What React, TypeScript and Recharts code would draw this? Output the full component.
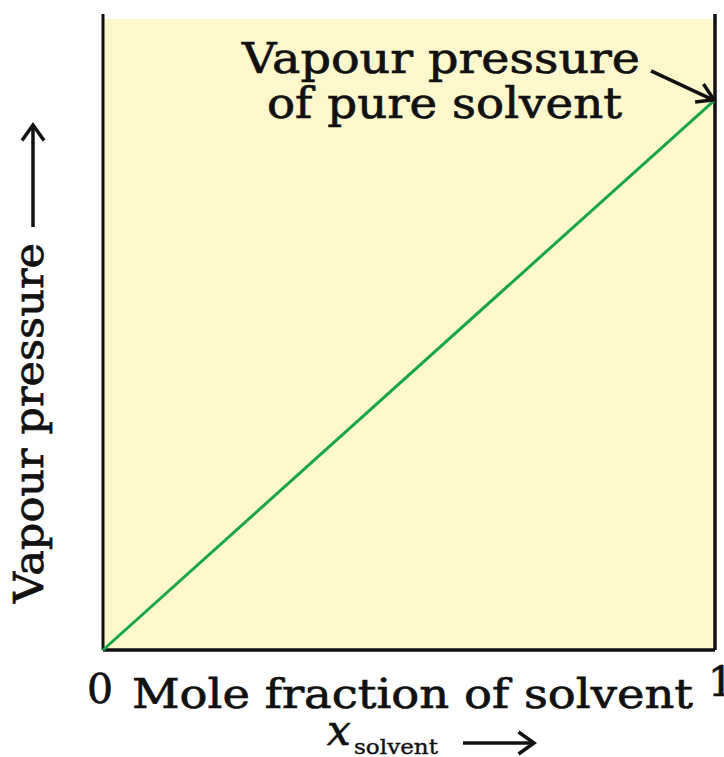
import {
  ComposedChart,
  Line,
  XAxis,
  YAxis,
  ReferenceArea,
  ReferenceLine,
  ReferenceDot,
  Label,
} from 'recharts'

// mole fraction of solvent vs its vapour pressure (Raoult's law, relative units)
const FRACTION = [0, 1]
const PRESSURE = [0, 1]
const X_TICKS = [0, 1]
const X_TITLE = 'Mole fraction of solvent'
const X_SYMBOL = 'x'
const X_SUB = 'solvent'
const Y_TITLE = 'Vapour pressure'
const NOTE = ['Vapour pressure', 'of pure solvent']

const FONT = '"DejaVu Serif", serif'
const INK = '#111111'
const PAPER = '#fef8cc'
const GREEN = '#19a64b'

const data = FRACTION.map((x, i) => ({ x, p: PRESSURE[i] }))

// the book face is wider and darker than DejaVu Serif, so stretch + embolden a bit
const heavy = { stroke: INK, strokeWidth: 0.7, lengthAdjust: 'spacingAndGlyphs' as const }

function arrowHead(x1: number, y1: number, x2: number, y2: number, len = 14, spread = 0.55) {
  const a = Math.atan2(y2 - y1, x2 - x1)
  const l = [x2 - len * Math.cos(a - spread), y2 - len * Math.sin(a - spread)]
  const r = [x2 - len * Math.cos(a + spread), y2 - len * Math.sin(a + spread)]
  return `M${l[0]},${l[1]} L${x2},${y2} L${r[0]},${r[1]}`
}

// eslint-disable-next-line @typescript-eslint/no-explicit-any
function XTick({ x, y, payload }: any) {
  const one = payload.value === 1
  return (
    <text
      x={x + (one ? 6 : -3)}
      y={y + (one ? 38 : 45)}
      textAnchor="middle"
      fontFamily={FONT}
      fontSize={41}
      fill={INK}
      stroke={INK}
      strokeWidth={0.7}
    >
      {payload.value}
    </text>
  )
}

// eslint-disable-next-line @typescript-eslint/no-explicit-any
function XTitle({ viewBox }: any) {
  const { x, y } = viewBox
  const ax = x + 360
  const ay = y + 93
  return (
    <g fontFamily={FONT} fill={INK}>
      <text x={x + 29} y={y + 58} fontSize={41} textLength={561} {...heavy}>
        {X_TITLE}
      </text>
      <text x={x + 224} y={y + 95} fontSize={42} fontStyle="italic" stroke={INK} strokeWidth={0.7}>
        {X_SYMBOL}
      </text>
      <text x={x + 251} y={y + 104} fontSize={21} textLength={84} {...heavy} strokeWidth={0.4}>
        {X_SUB}
      </text>
      <line x1={ax} y1={ay} x2={ax + 70} y2={ay} stroke={INK} strokeWidth={3.5} />
      <path d={arrowHead(ax, ay, ax + 71, ay, 19, 0.62)} stroke={INK} strokeWidth={3.5} fill="none" />
    </g>
  )
}

// eslint-disable-next-line @typescript-eslint/no-explicit-any
function YTitle({ viewBox }: any) {
  const { y, height } = viewBox
  const bx = 43
  const by = y + height - 47
  const ax = 33
  return (
    <g fontFamily={FONT} fill={INK}>
      <text x={bx} y={by} transform={`rotate(-90 ${bx} ${by})`} fontSize={41} textLength={360} {...heavy}>
        {Y_TITLE}
      </text>
      <line x1={ax} y1={y + 213} x2={ax} y2={y + 112} stroke={INK} strokeWidth={3.5} />
      <path d={arrowHead(ax, y + 213, ax, y + 111, 19, 0.62)} stroke={INK} strokeWidth={3.5} fill="none" />
    </g>
  )
}

// eslint-disable-next-line @typescript-eslint/no-explicit-any
function Note({ viewBox }: any) {
  const cx = viewBox.x + viewBox.width / 2
  const cy = viewBox.y + viewBox.height / 2
  const sx = cx - 64
  const sy = cy - 29
  return (
    <g fontFamily={FONT} fill={INK}>
      <text x={cx - 473} y={cy - 27} fontSize={42} textLength={398} {...heavy}>
        {NOTE[0]}
      </text>
      <text x={cx - 448} y={cy + 18} fontSize={42} textLength={355} {...heavy}>
        {NOTE[1]}
      </text>
      <line x1={sx} y1={sy} x2={cx - 2} y2={cy} stroke={INK} strokeWidth={3.5} />
      <path d={arrowHead(sx, sy, cx - 1, cy, 19, 0.55)} stroke={INK} strokeWidth={3.5} fill="none" />
    </g>
  )
}

export default function App() {
  return (
    <div style={{ position: 'absolute', left: 0, top: 0, background: '#fff' }}>
      <ComposedChart
        width={724}
        height={757}
        data={data}
        margin={{ top: 14, right: 9, left: 0, bottom: 0 }}
      >
        <XAxis
          dataKey="x"
          type="number"
          domain={[0, 1]}
          ticks={X_TICKS}
          height={107}
          axisLine={false}
          tickLine={false}
          tick={<XTick />}
        >
          <Label content={<XTitle />} />
        </XAxis>
        <YAxis type="number" domain={[0, 1.156]} width={103} axisLine={false} tickLine={false} tick={false}>
          <Label content={<YTitle />} />
        </YAxis>

        <ReferenceArea x1={0} x2={1} y1={0} y2={1.147} fill={PAPER} fillOpacity={1} stroke="none" />
        <ReferenceLine x={0} stroke={INK} strokeWidth={3} />
        <ReferenceLine x={1} stroke={INK} strokeWidth={3.5} />
        <ReferenceLine y={0} stroke={INK} strokeWidth={3.5} />

        <Line
          dataKey="p"
          stroke={GREEN}
          strokeWidth={3}
          dot={false}
          activeDot={false}
          isAnimationActive={false}
        />

        <ReferenceDot x={1} y={1} r={1} fill="none" stroke="none">
          <Label content={<Note />} />
        </ReferenceDot>
      </ComposedChart>
    </div>
  )
}
